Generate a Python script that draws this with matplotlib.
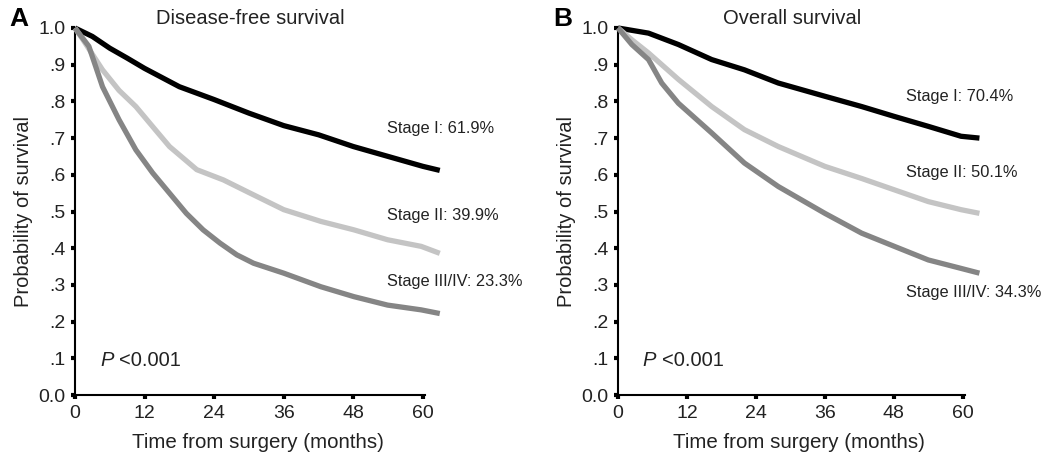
import matplotlib
matplotlib.use("Agg")
import matplotlib.pyplot as plt

plt.rcParams['font.family'] = ['Liberation Sans', 'DejaVu Sans']

# Disease-free survival (panel A): months, probability
dfs_t1 = [0, 3, 6, 9, 12, 18, 24, 30, 36, 42, 48, 54, 60, 62.9]
dfs_s1 = [1.0, 0.977, 0.945, 0.918, 0.89, 0.84, 0.805, 0.768, 0.734, 0.709, 0.677, 0.65, 0.623, 0.612]
dfs_t2 = [0, 1.3, 4.75, 7.6, 10.5, 14, 16.3, 21, 25.6, 30.2, 36, 42.4, 48.1, 53.9, 59.7, 62.9]
dfs_s2 = [1.0, 0.97, 0.886, 0.83, 0.786, 0.72, 0.677, 0.614, 0.586, 0.55, 0.505, 0.473, 0.45, 0.423, 0.405, 0.386]
dfs_t3 = [0, 2.4, 4.75, 7.6, 10.5, 13.4, 16.3, 19.2, 22.1, 25, 27.9, 30.8, 36, 42.4, 48.1, 53.9, 59.7, 62.9]
dfs_s3 = [1.0, 0.95, 0.84, 0.75, 0.668, 0.605, 0.55, 0.495, 0.45, 0.414, 0.382, 0.359, 0.332, 0.295, 0.268, 0.245, 0.232, 0.222]

# Overall survival (panel B)
os_t1 = [0, 5.3, 10.5, 16.3, 22, 27.9, 36, 42.4, 48.1, 54, 59.7, 62.9]
os_s1 = [1.0, 0.986, 0.955, 0.914, 0.886, 0.85, 0.814, 0.786, 0.759, 0.732, 0.705, 0.70]
os_t2 = [0, 2.4, 5.3, 10.5, 16.3, 22, 27.9, 36, 42.4, 48.1, 54, 59.7, 62.9]
os_s2 = [1.0, 0.968, 0.932, 0.86, 0.786, 0.723, 0.677, 0.623, 0.59, 0.559, 0.527, 0.505, 0.495]
os_t3 = [0, 2.4, 5.3, 7.6, 10.5, 16.3, 22, 27.9, 36, 42.4, 48.1, 54, 59.7, 62.9]
os_s3 = [1.0, 0.955, 0.914, 0.85, 0.795, 0.714, 0.632, 0.568, 0.495, 0.441, 0.405, 0.368, 0.345, 0.332]

colors = ['black', '#c4c4c4', '#858585']
xticks = [0, 12, 24, 36, 48, 60]
yticks = [0, .1, .2, .3, .4, .5, .6, .7, .8, .9, 1.0]
ylabels = ['0.0', '.1', '.2', '.3', '.4', '.5', '.6', '.7', '.8', '.9', '1.0']

fig = plt.figure(figsize=(10.44, 4.59), dpi=100)
axA = fig.add_axes([0.0718, 0.1394, 0.350, 0.7996])
axB = fig.add_axes([0.592, 0.1394, 0.3467, 0.7996])

panels = [
    (axA, 'A', 'Disease-free survival',
     [(dfs_t1, dfs_s1), (dfs_t2, dfs_s2), (dfs_t3, dfs_s3)],
     ['Stage I: 61.9%', 'Stage II: 39.9%', 'Stage III/IV: 23.3%'],
     [0.727, 0.49, 0.308], 53.8),
    (axB, 'B', 'Overall survival',
     [(os_t1, os_s1), (os_t2, os_s2), (os_t3, os_s3)],
     ['Stage I: 70.4%', 'Stage II: 50.1%', 'Stage III/IV: 34.3%'],
     [0.812, 0.605, 0.278], 50.1),
]

for ax, letter, title, curves, labels, label_y, label_x in panels:
    for (t, s), c in zip(curves, colors):
        ax.plot(t, s, color=c, lw=3.8, clip_on=False, zorder=3,
                solid_capstyle='butt')
    for txt, yy in zip(labels, label_y):
        ax.text(label_x, yy, txt, fontsize=11.8, va='center', ha='left',
                color='#222222')
    ax.text(4.3, 0.095, 'P', fontsize=14.5, va='center', ha='left',
            style='italic', color='#222222')
    ax.text(7.6, 0.095, '<0.001', fontsize=14.5, va='center', ha='left',
            color='#222222')
    ax.set_xlim(0, 63)
    ax.set_ylim(0, 1.0)
    ax.set_xticks(xticks)
    ax.set_yticks(yticks)
    ax.set_yticklabels(ylabels)
    ax.spines['top'].set_visible(False)
    ax.spines['right'].set_visible(False)
    ax.spines['bottom'].set_bounds(0, 60.4)
    ax.spines['left'].set_linewidth(1.5)
    ax.spines['bottom'].set_linewidth(1.5)
    ax.tick_params(direction='out', length=3, width=3, labelsize=14,
                   pad=4, labelcolor='#222222')
    ax.set_xlabel('Time from surgery (months)', fontsize=14.8, labelpad=8,
                  color='#222222')
    ax.set_ylabel('Probability of survival', fontsize=14.5, labelpad=4,
                  color='#222222')
    ax.set_title(title, fontsize=14.5, pad=3, x=0.48, color='#222222')
    ax.text(-0.18, 1.025, letter, transform=ax.transAxes, fontsize=19,
            fontweight='bold', va='center', ha='left')

fig.savefig('out.png', dpi=100)
